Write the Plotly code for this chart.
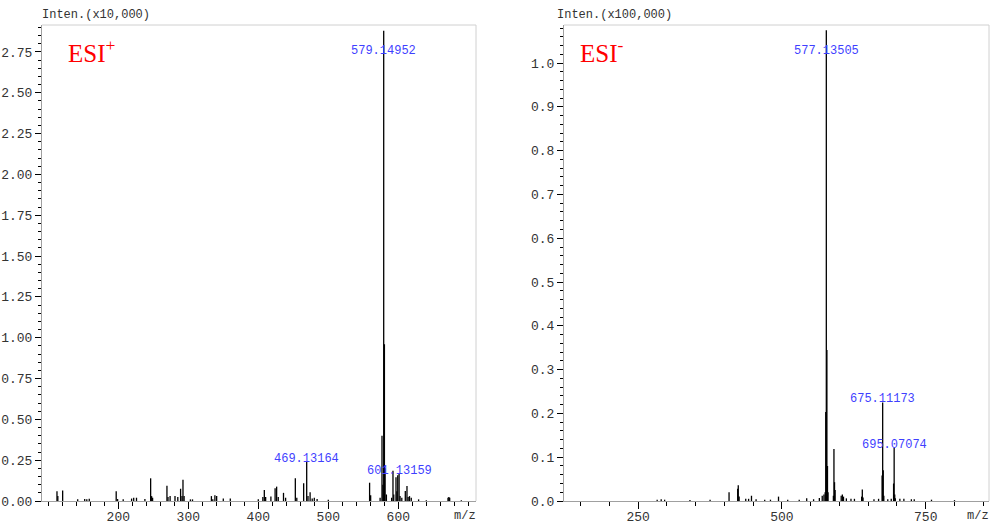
import plotly.graph_objects as go

# ---------------- data ----------------
# ESI+ spectrum (intensity in units of x10,000)
pos_mz = [112.4, 113.6, 120.5, 142.0, 152.0, 155.0, 158.5, 197.0, 199.0, 207.0,
          219.0, 222.0, 226.0, 238.0, 246.2, 247.6, 249.0, 269.5, 271.0, 274.0,
          281.0, 285.0, 289.0, 291.0, 292.4, 294.0, 303.0, 306.0, 333.0, 335.0,
          338.0, 340.5, 350.0, 360.0, 400.0, 406.5, 408.6, 410.5, 418.0, 424.0,
          426.2, 428.5, 436.0, 439.0, 452.9, 455.0, 464.8, 469.13164, 471.0, 474.0,
          477.0, 480.0, 484.0, 500.0, 559.0, 560.5, 574.0, 576.7, 578.0, 579.14952,
          580.15, 581.15, 583.0, 590.5, 592.4, 593.5, 596.7, 598.0, 599.2, 601.13159,
          602.5, 605.0, 610.0, 612.4, 614.0, 616.0, 618.5, 629.0, 640.0, 671.0,
          672.2, 673.4, 690.0]
pos_int = [0.060, 0.030, 0.065, 0.010, 0.012, 0.010, 0.014, 0.060, 0.012, 0.010,
           0.015, 0.020, 0.020, 0.012, 0.139, 0.030, 0.020, 0.094, 0.025, 0.030,
           0.030, 0.025, 0.075, 0.030, 0.130, 0.030, 0.010, 0.010, 0.030, 0.010,
           0.035, 0.030, 0.015, 0.015, 0.010, 0.025, 0.067, 0.025, 0.027, 0.078,
           0.088, 0.025, 0.050, 0.020, 0.139, 0.020, 0.108, 0.240, 0.030, 0.053,
           0.015, 0.020, 0.012, 0.008, 0.112, 0.035, 0.020, 0.400, 0.100, 2.880,
           0.960, 0.200, 0.040, 0.020, 0.186, 0.040, 0.145, 0.060, 0.157, 0.165,
           0.030, 0.020, 0.061, 0.092, 0.025, 0.030, 0.020, 0.010, 0.005, 0.020,
           0.025, 0.020, 0.005]
pos_labels = [579.14952, 469.13164, 601.13159]
pos_xticks = [200, 300, 400, 500, 600]

# ESI- spectrum (intensity in units of x100,000)
neg_mz = [283.0, 290.0, 296.0, 340.0, 375.0, 408.0, 423.0, 424.0, 425.5, 437.0,
          442.0, 447.0, 455.0, 470.0, 480.0, 494.0, 510.0, 530.0, 543.0, 555.0,
          565.0, 570.0, 573.0, 575.1, 576.13, 577.13505, 578.14, 579.14, 580.1, 589.4,
          590.4, 591.4, 592.4, 603.0, 605.0, 607.0, 612.0, 620.0, 626.0, 638.5,
          639.7, 641.0, 660.0, 668.0, 674.1, 675.11173, 676.1, 677.1, 684.0, 690.0,
          694.1, 695.07074, 696.1, 697.1, 705.0, 712.0, 725.0, 730.0, 760.0, 800.0]
neg_int = [0.003, 0.004, 0.003, 0.002, 0.003, 0.020, 0.028, 0.036, 0.010, 0.005,
           0.005, 0.012, 0.004, 0.003, 0.003, 0.010, 0.003, 0.003, 0.006, 0.004,
           0.007, 0.012, 0.015, 0.020, 0.203, 1.075, 0.345, 0.080, 0.020, 0.012,
           0.119, 0.043, 0.025, 0.012, 0.015, 0.010, 0.006, 0.005, 0.005, 0.010,
           0.026, 0.008, 0.004, 0.005, 0.058, 0.225, 0.070, 0.012, 0.004, 0.005,
           0.040, 0.122, 0.015, 0.006, 0.005, 0.005, 0.004, 0.004, 0.003, 0.002]
neg_labels = [577.13505, 675.11173, 695.07074]
neg_xticks = [250, 500, 750]

pos_range_x = [91, 711]
pos_range_y = [0, 2.915]
neg_range_x = [121, 860]
neg_range_y = [0, 1.087]

# ---------------- figure ----------------
MONO = "Liberation Mono"
TXT = "#333333"
BLUE = "#3f3fff"


def sticks(mz, inten):
    xs, ys = [], []
    for m, h in zip(mz, inten):
        xs += [m, m, None]
        ys += [0, h, None]
    return xs, ys


fig = go.Figure()
px_, py_ = sticks(pos_mz, pos_int)
fig.add_trace(go.Scatter(x=px_, y=py_, mode="lines", line=dict(color="black", width=1.3),
                         xaxis="x", yaxis="y", hoverinfo="skip", showlegend=False))
nx_, ny_ = sticks(neg_mz, neg_int)
fig.add_trace(go.Scatter(x=nx_, y=ny_, mode="lines", line=dict(color="black", width=1.3),
                         xaxis="x2", yaxis="y2", hoverinfo="skip", showlegend=False))

ydom = [24 / 525, 500 / 525]
common_x = dict(showgrid=False, zeroline=False, showline=True, linecolor="#a0a0a0",
                ticks="outside", ticklen=7, tickcolor="black", tickwidth=1, automargin=False,
                ticklabelstandoff=-4,
                tickfont=dict(family=MONO, size=13, color=TXT), fixedrange=True)
common_y = dict(showgrid=False, zeroline=False, showline=True, linecolor="#a0a0a0",
                ticks="outside", ticklen=6, tickcolor="black", tickwidth=1, automargin=False,
                tickfont=dict(family=MONO, size=13, color=TXT), fixedrange=True)

fig.update_layout(
    width=993, height=525,
    margin=dict(l=0, r=0, t=0, b=0),
    paper_bgcolor="white", plot_bgcolor="white",
    xaxis=dict(domain=[42 / 993, 476 / 993], range=pos_range_x,
               tickmode="array", tickvals=pos_xticks, ticktext=[str(v) for v in pos_xticks],
               minor=dict(tickmode="linear", tick0=0, dtick=20, ticklen=4, ticks="outside",
                          tickcolor="black"),
               anchor="y", **common_x),
    yaxis=dict(domain=ydom, range=pos_range_y, tick0=0, dtick=0.25, tickformat=".2f",
               minor=dict(dtick=0.05, ticklen=3, ticks="outside", tickcolor="black"),
               anchor="x", **common_y),
    xaxis2=dict(domain=[564 / 993, 989 / 993], range=neg_range_x,
                tickmode="array", tickvals=neg_xticks, ticktext=[str(v) for v in neg_xticks],
                minor=dict(tickmode="linear", tick0=0, dtick=50, ticklen=4, ticks="outside",
                           tickcolor="black"),
                anchor="y2", **common_x),
    yaxis2=dict(domain=ydom, range=neg_range_y, tick0=0, dtick=0.1, tickformat=".1f",
                minor=dict(dtick=0.02, ticklen=3, ticks="outside", tickcolor="black"),
                anchor="x2", **common_y),
)

# frame (top and right borders)
for xr, yr in (("x domain", "y domain"), ("x2 domain", "y2 domain")):
    fig.add_shape(type="line", xref=xr, yref=yr, x0=0, x1=1, y0=1, y1=1,
                  line=dict(color="#d0d0d0", width=1))
    fig.add_shape(type="line", xref=xr, yref=yr, x0=1, x1=1, y0=0, y1=1,
                  line=dict(color="#d0d0d0", width=1))


def add_labels(mz, inten, labels, xref, yref, ymax):
    for lab in labels:
        h = inten[mz.index(lab)]
        if h > 0.9 * ymax:
            fig.add_annotation(x=lab, y=0.945 * ymax, xref=xref, yref=yref,
                               text=f"{lab:.5f}", showarrow=False, yanchor="middle",
                               font=dict(family=MONO, size=12, color=BLUE))
        else:
            fig.add_annotation(x=lab, y=h, xref=xref, yref=yref, yshift=-6,
                               text=f"{lab:.5f}", showarrow=False, yanchor="bottom",
                               font=dict(family=MONO, size=12, color=BLUE))


add_labels(pos_mz, pos_int, pos_labels, "x", "y", pos_range_y[1])
add_labels(neg_mz, neg_int, neg_labels, "x2", "y2", neg_range_y[1])

# axis titles
fig.add_annotation(x=0, y=1, xref="x domain", yref="y domain", yshift=1, xshift=-2,
                   text="Inten.(x10,000)", showarrow=False, xanchor="left", yanchor="bottom",
                   font=dict(family=MONO, size=12, color=TXT))
fig.add_annotation(x=0, y=1, xref="x2 domain", yref="y2 domain", yshift=1, xshift=-9,
                   text="Inten.(x100,000)", showarrow=False, xanchor="left", yanchor="bottom",
                   font=dict(family=MONO, size=12, color=TXT))
fig.add_annotation(x=1, y=0, xref="x domain", yref="y domain", yshift=-6, xshift=2,
                   text="m/z", showarrow=False, xanchor="right", yanchor="top",
                   font=dict(family=MONO, size=12, color=TXT))
fig.add_annotation(x=1, y=0, xref="x2 domain", yref="y2 domain", yshift=-6, xshift=2,
                   text="m/z", showarrow=False, xanchor="right", yanchor="top",
                   font=dict(family=MONO, size=12, color=TXT))

# ion mode labels
fig.add_annotation(x=0, y=1, xref="x domain", yref="y domain", xshift=24, yshift=-8,
                   text="ESI<sup>+</sup>", showarrow=False, xanchor="left", yanchor="top",
                   font=dict(family="Liberation Serif", size=25, color="red"))
fig.add_annotation(x=0, y=1, xref="x2 domain", yref="y2 domain", xshift=14, yshift=-8,
                   text="ESI<sup>-</sup>", showarrow=False, xanchor="left", yanchor="top",
                   font=dict(family="Liberation Serif", size=25, color="red"))

fig.write_html("out.html")
